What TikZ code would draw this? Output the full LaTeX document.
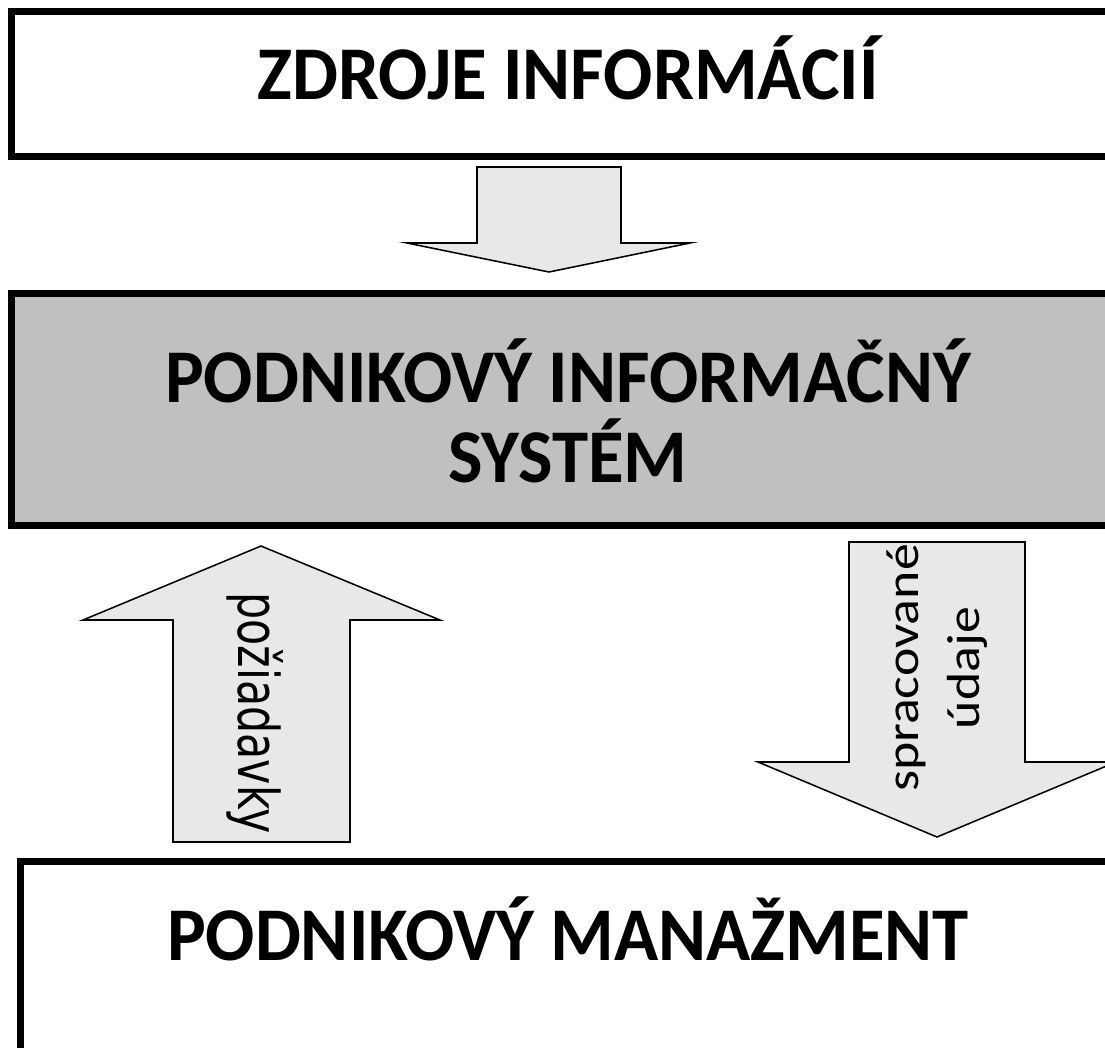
\documentclass[tikz,border=0pt]{standalone}
\usepackage{fontspec}
\setmainfont{Carlito}
\newfontfamily\titlefont[FakeStretch=0.96]{Carlito}
\newfontfamily\reqfont[FakeStretch=0.76]{DejaVu Sans}
\newfontfamily\datafont[FakeStretch=1.16]{Carlito}
\usetikzlibrary{positioning}
\definecolor{boxgray}{HTML}{C0C0C0}
\definecolor{arrowfill}{HTML}{E8E8E8}
\tikzset{
  box/.style={draw,line width=5pt,anchor=north west,inner sep=0pt,minimum width=28.05cm},
  title/.style={font=\titlefont\bfseries\fontsize{54}{57}\selectfont,align=center,inner sep=0pt},
  blockarrow/.style={draw,line width=1.1pt,fill=arrowfill,line join=miter},
  flowlabel/.style={align=center,inner sep=0pt}
}

\begin{document}
\begin{tikzpicture}[x=0.025cm,y=-0.025cm]
 \useasboundingbox (0,0) rectangle (1105,1047);
 \clip (0,0) rectangle (1105,1047);
 % boxes
 \node[box,minimum height=3.625cm] (sources) at (8,7.5) {};
 \node[box,fill=boxgray,minimum height=5.8cm] (pis) at (8,290) {};
 \node[box,minimum width=27.825cm,minimum height=6.25cm] (mgmt) at (17,858) {};
 \node[title,anchor=base] (sourcestxt) at (568,99) {ZDROJE INFORMÁCIÍ};
 \node[title] (pistxt) at (568,411) {PODNIKOVÝ INFORMAČNÝ\\SYSTÉM};
 \node[title,anchor=base] (mgmttxt) at (568,960) {PODNIKOVÝ MANAŽMENT};
 % block arrows
 \draw[blockarrow] (477,167) -- (621,167) -- (621,243) -- (690,243) -- (549,272)
   -- (407,243) -- (477,243) -- cycle;
 \draw[blockarrow] (173,842) -- (173,620) -- (83,620) -- (261,546) -- (440,620)
   -- (350,620) -- (350,842) -- cycle;
 \draw[blockarrow] (849,542) -- (1025,542) -- (1025,762) -- (1116,762) -- (937,837)
   -- (758,762) -- (849,762) -- cycle;
 \node[flowlabel,rotate=-90,font=\reqfont\fontsize{40}{48}\selectfont] (request)
   at (255,713) {požiadavky};
 \node[flowlabel,rotate=90,font=\datafont\fontsize{33}{43}\selectfont] (processed)
   at (937,668) {spracované\\údaje};
\end{tikzpicture}
\end{document}
